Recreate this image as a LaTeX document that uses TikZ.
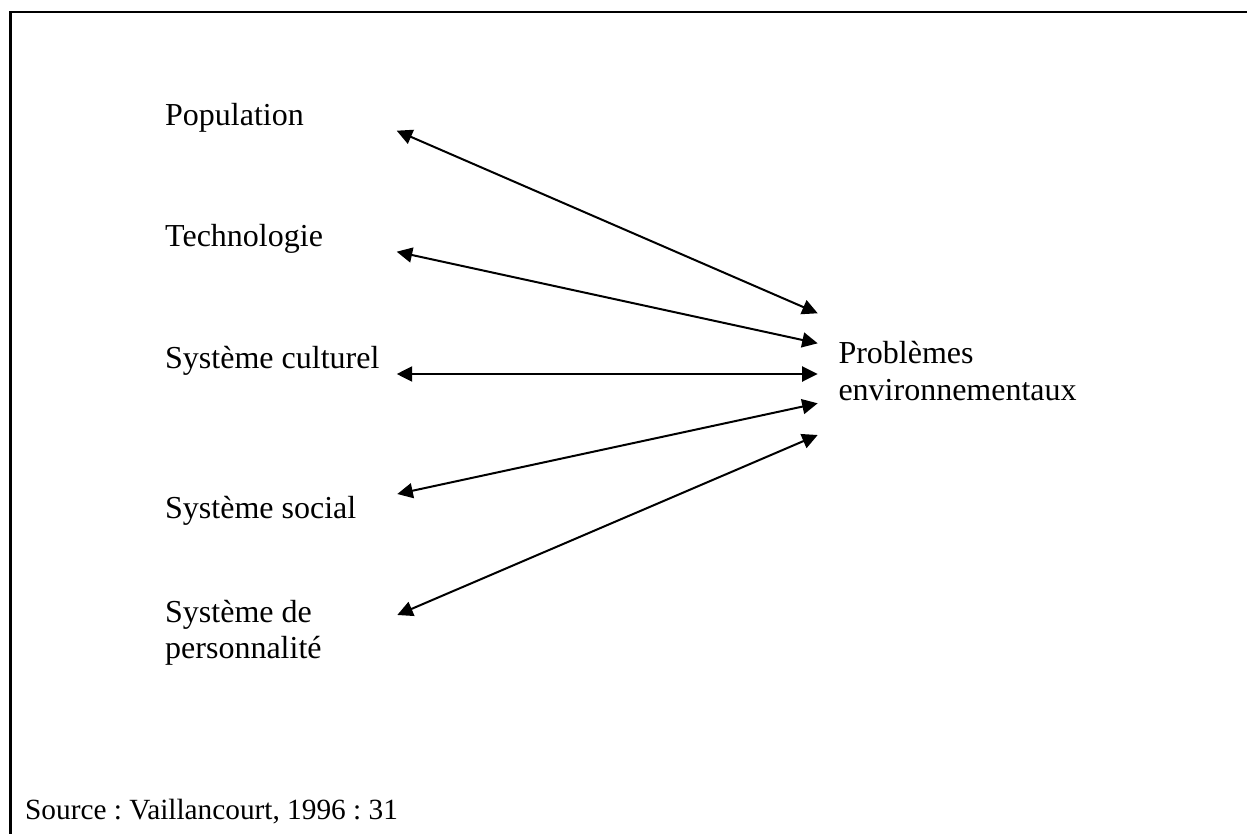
\documentclass[tikz,border=0pt]{standalone}
\usepackage{fontspec}
\setmainfont{Liberation Serif}
\usetikzlibrary{arrows.meta}
\frenchspacing
\begin{document}
\begin{tikzpicture}[x=1pt,y=-1pt,
  lbl/.style={anchor=base west, inner sep=0pt, font=\fontsize{32}{36.3}\selectfont, align=left},
  link/.style={line width=2pt, {Triangle[length=15.5pt,width=15pt]}-{Triangle[length=15.5pt,width=15pt]}},
  frame/.style={line width=2.4pt, line join=miter}]
\useasboundingbox (0,0) rectangle (1247,834);
\draw[frame] (10.3,834) -- (10.3,12.2) -- (1247,12.2);
\node[lbl] (pop)  at (165,126)   {Population};
\node[lbl] (tech) at (165,246.7) {Technologie};
\node[lbl] (cult) at (165,368)   {Système culturel};
\node[lbl] (soc)  at (165,518)   {Système social};
\node[lbl] (pers) at (165,658.5) {Système de\\personnalité};
\node[lbl] (prob) at (838.3,400) {Problèmes\\environnementaux};
\node[lbl, font=\fontsize{29.3}{33}\selectfont] (src) at (25,819) {Source : Vaillancourt, 1996 : 31};
\coordinate (popE)  at (396.7,130.7);
\coordinate (techE) at (396.7,251.7);
\coordinate (cultE) at (396.7,374);
\coordinate (socE)  at (397.3,494);
\coordinate (persE) at (397.3,615);
\coordinate (p1) at (817.7,313.3);
\coordinate (p2) at (817.7,343.3);
\coordinate (p3) at (817.7,374);
\coordinate (p4) at (817.7,403.3);
\coordinate (p5) at (817.7,435);
\draw[link] (popE) -- (p1);
\draw[link] (techE) -- (p2);
\draw[link] (cultE) -- (p3);
\draw[link] (socE) -- (p4);
\draw[link] (persE) -- (p5);
\end{tikzpicture}
\end{document}
